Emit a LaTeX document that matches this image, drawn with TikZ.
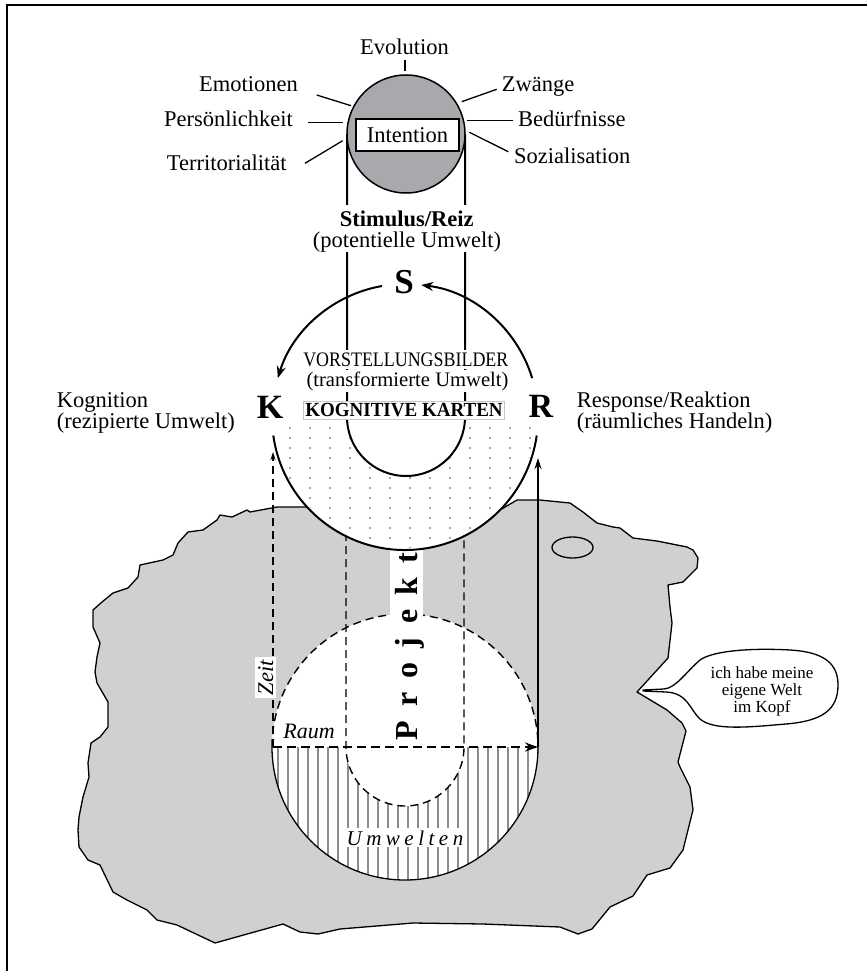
\documentclass[tikz,border=0pt]{standalone}
\usepackage{fontspec}
\setmainfont{Liberation Serif}
\usetikzlibrary{arrows.meta}
\definecolor{blobgray}{HTML}{CFD0D2}
\definecolor{topgray}{HTML}{A7A9AC}
\definecolor{dotgray}{HTML}{8A8A8A}
\definecolor{stripegray}{HTML}{8C8C8C}
\begin{document}
\begin{tikzpicture}[x=1pt,y=-1pt,
  lbl/.style={font=\fontsize{22.5}{22}\selectfont, inner sep=0pt},
  halo/.style={fill=white, inner sep=2.5pt},
  big/.style={font=\fontsize{34}{34}\bfseries, inner sep=0pt},
  ray/.style={line width=1.3},
  mainline/.style={line width=2},
  arcarrow/.style={line width=2, -{Stealth[length=12pt,width=9pt]}},
  dashline/.style={line width=1.4, dash pattern=on 8pt off 5pt},
  stripe/.style={stripegray, line width=1.6}]
\useasboundingbox (0,0) rectangle (867,971);

% frame (top and left edges only)
\draw[line width=2] (7,971) -- (7,5) -- (867,5);

% blob (Kopf)
\draw[fill=blobgray, line width=1.3, line join=round]
 (405,450) -- (308,507) -- (277,507) -- (250,512) -- (247,510) -- (232,517) -- (220,515) -- (217,520)
 -- (203,530) -- (188,532) -- (178,543) -- (173,555) -- (163,560) -- (140,565) -- (138,577) -- (128,588)
 -- (113,593) -- (102,602) -- (93,610) -- (93,627) -- (100,643) -- (97,657) -- (95,672) -- (97,683)
 -- (108,702) -- (108,727) -- (100,737) -- (91,743) -- (88,763) -- (89,777) -- (83,797) -- (79,817)
 -- (78,830) -- (79,847) -- (88,860) -- (100,865) -- (113,892) -- (127,900) -- (147,910) -- (157,920)
 -- (177,925) -- (215,943) -- (283,924) -- (300,932) -- (318,934) -- (340,929) -- (413,923) -- (483,924)
 -- (560,927) -- (578,934) -- (592,929) -- (610,907) -- (633,896) -- (647,875) -- (670,868) -- (683,850)
 -- (693,810) -- (690,787) -- (680,767) -- (678,762) -- (686,731) -- (682,723) -- (667,710) -- (637,692)
 -- (668,658) -- (672,623) -- (670,607) -- (668,585) -- (683,582) -- (697,568) -- (698,558) -- (693,550)
 -- (687,547) -- (657,541) -- (633,538) -- (620,528) -- (613,527) -- (597,523) -- (583,512) -- (570,503)
 -- (540,500) -- (517,500) -- (500,510) -- cycle;

% eye
\draw[line width=1.3] (572.5,547.5) ellipse [x radius=20.5, y radius=10.5];

% speech bubble
\draw[fill=white, line width=1.3, line join=round]
 (643,690) -- (664,689) .. controls (676,688) and (686,672) .. (700,660)
 .. controls (714,650) and (755,648) .. (790,650)
 .. controls (826,652) and (838,665) .. (838,685)
 .. controls (838,710) and (822,721) .. (786,724)
 .. controls (750,727) and (714,731) .. (700,719)
 .. controls (690,710) and (688,693) .. (666,692) -- (643,691) -- cycle;
\node[font=\fontsize{17}{17}\selectfont, inner sep=0pt, text depth=0pt, anchor=base] (b1) at (762,678.3) {ich habe meine};
\node[font=\fontsize{17}{17}\selectfont, inner sep=0pt, text depth=0pt, text height=11pt, anchor=base] (b2) at (762,695.6) {eigene Welt};
\node[font=\fontsize{17}{17}\selectfont, inner sep=0pt, text height=11pt, anchor=base] (b3) at (762,712.9) {im Kopf};

% lower circle (Umwelten)
\coordinate (L) at (405,747);
\fill[white] (L) circle[radius=133];
\begin{scope}
  \clip (L) ++(180:133) arc[start angle=180, end angle=0, radius=133] -- cycle;
  \foreach \x in {278,288,...,538} \draw[stripe] (\x,747) -- (\x,885);
\end{scope}
\draw[line width=1.3] (L) ++(180:133) arc[start angle=180, end angle=0, radius=133];
\draw[dashline] (L) ++(180:133) arc[start angle=180, end angle=360, radius=133];

% inner dashed U
\fill[white] (346,747) arc[start angle=180, end angle=0, radius=59] -- cycle;
\draw[dashline] (346,520) -- (346,747) arc[start angle=180, end angle=0, radius=59] -- (464,520);

% Projekt strip
\fill[white] (390,530) rectangle (423,625);

% upper big circle
\coordinate (U) at (405,417);
\fill[white] (U) circle[radius=133];
\begin{scope}
  \clip (U) circle[radius=131];
  \clip (260,423) rectangle (560,560);
  \foreach \x in {290,310,...,530}
    \foreach \y in {428,438,...,548}
      \fill[dotgray] (\x,\y) circle[radius=1.1];
\end{scope}

% pill (Intention channel)
\fill[white] (347,134) -- (347,417) arc[start angle=180, end angle=0, radius=59] -- (465,134) -- cycle;
\draw[mainline] (347,134) -- (347,417) arc[start angle=180, end angle=0, radius=59] -- (465,134);

% top circle
\draw[fill=topgray, line width=1.5] (406,134) circle[radius=59];
\node[draw, fill=white, line width=1.5, minimum width=103, minimum height=32, inner sep=0pt,
      font=\fontsize{22.5}{22}\selectfont] (int) at (407.5,135) {Intention};

% rays and influence labels
\node[lbl, anchor=base] (evo) at (404.5,54.3) {Evolution};
\node[lbl, anchor=base east] (emo) at (298,91.7) {Emotionen};
\node[lbl, anchor=base east] (pers) at (293,126) {Persönlichkeit};
\node[lbl, anchor=base east] (terr) at (286.7,170) {Territorialität};
\node[lbl, anchor=base west] (zw) at (501.7,91.7) {Zwänge};
\node[lbl, anchor=base west] (bed) at (518,126) {Bedürfnisse};
\node[lbl, anchor=base west] (soz) at (514,163.3) {Sozialisation};
\draw[ray] (405,60) -- (405,71);
\draw[ray] (316.7,95) -- (351,105.7);
\draw[ray] (308.3,122.3) -- (343.3,122.3);
\draw[ray] (305,163.3) -- (342.7,140.7);
\draw[ray] (461.7,101.7) -- (496.7,89.3);
\draw[ray] (466.7,120.7) -- (513.3,120.7);
\draw[ray] (469.3,132.3) -- (508.3,151.7);

% stimulus text on a white halo
\fill[white] (338,205) rectangle (476,252);
\node[lbl, text depth=0pt, anchor=base, font=\fontsize{22.5}{22}\selectfont\bfseries] (stim) at (406.7,226) {Stimulus/Reiz};
\node[lbl, text height=15pt, anchor=base] (pot) at (407,247) {(potentielle Umwelt)};

% VORSTELLUNGSBILDER
\node[fill=white, inner xsep=2.5pt, inner ysep=2pt, text depth=1pt, anchor=base,
      font=\fontsize{20.6}{20}\selectfont] (vor) at (405.8,366) {\scalebox{0.87}[1]{VORSTELLUNGSBILDER}};
\node[fill=white, inner xsep=2.5pt, inner ysep=2pt, text height=14pt, anchor=base,
      font=\fontsize{20.6}{20}\selectfont] (trans) at (407.5,386) {(transformierte Umwelt)};
\node[fill=white, draw=gray!45, line width=0.6, inner sep=2pt, text height=13pt, text depth=1pt, anchor=base,
      font=\fontsize{20}{20}\selectfont\bfseries] (kk) at (404,416.7) {\scalebox{0.95}[1]{KOGNITIVE KARTEN}};

% S K R
\node[big, font=\fontsize{35}{35}\selectfont\bfseries, anchor=base] (S) at (404,293.3) {S};
\node[big, anchor=base] (K) at (270,418) {K};
\node[big, anchor=base] (R) at (541,417) {R};

% big circle arcs
\draw[mainline] (U) ++(172:133) arc[start angle=172, end angle=8, radius=133];
\draw[arcarrow] (U) ++(-100:133) arc[start angle=-100, end angle=-163, radius=133];
\draw[arcarrow] (U) ++(-17:133) arc[start angle=-17, end angle=-83, radius=133];

% side labels
\node[lbl, text depth=0pt, anchor=base west] (kog1) at (56.7,407) {Kognition};
\node[lbl, text height=15pt, anchor=base west] (kog2) at (56.7,428) {(rezipierte Umwelt)};
\node[lbl, text depth=0pt, anchor=base west] (res1) at (576.7,407) {Response/Reaktion};
\node[lbl, text height=15pt, anchor=base west] (res2) at (576.7,428) {(räumliches Handeln)};

% arrows Zeit / Raum / Reaktion
\coordinate (z0) at (273,747);
\coordinate (z1) at (273,452);
\coordinate (r0) at (538,747);
\coordinate (r1) at (538,458);
\draw[dashline, line width=1.3, -{Stealth[length=8pt,width=5pt]}] (z0) -- (z1);
\draw[line width=1.3, -{Stealth[length=11pt,width=7pt]}] (r0) -- (r1);
\draw[line width=2.2, dash pattern=on 9pt off 5pt, -{Stealth[length=13pt,width=9pt]}] (z0) -- (r0);

% labels in lower part
\node[fill=white, inner sep=3pt, rotate=90, anchor=base, font=\fontsize{22.5}{22}\selectfont\itshape] (zeit) at (273,677.5) {Zeit};
\node[inner sep=0pt, anchor=base, font=\fontsize{22}{22}\selectfont\itshape] (raum) at (309,738.3) {Raum};
\node[fill=white, inner sep=2pt, anchor=base, font=\fontsize{21}{21}\selectfont\itshape] (umw) at (405,845)
  {U\hspace{4.5pt}m\hspace{4.5pt}w\hspace{4.5pt}e\hspace{4.5pt}l\hspace{4.5pt}t\hspace{4.5pt}e\hspace{4.5pt}n};
\node[inner sep=0pt, rotate=90, anchor=base, font=\fontsize{32}{32}\selectfont\bfseries] (proj) at (417,646.5)
  {P\hspace{14pt}r\hspace{14pt}o\hspace{14pt}j\hspace{14pt}e\hspace{14pt}k\hspace{14pt}t};
\end{tikzpicture}
\end{document}
